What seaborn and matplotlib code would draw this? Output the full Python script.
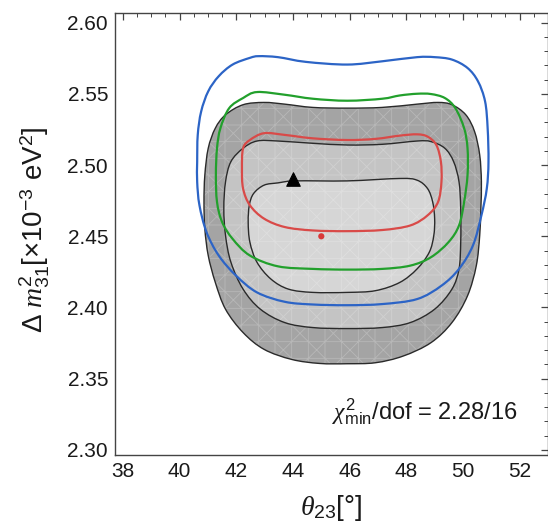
import numpy as np
import matplotlib
matplotlib.use("Agg")
import matplotlib.pyplot as plt
from matplotlib.ticker import MultipleLocator
from matplotlib.path import Path
from matplotlib.patches import PathPatch
import seaborn as sns

# ---- data (theta23 [deg], dm31^2 [1e-3 eV^2]) ----
blue_x = [40.62, 40.64, 40.76, 41.01, 41.38, 41.87, 42.48, 42.79, 43.47, 44.45, 45.92, 47.15,
          48.38, 49.00, 49.61, 50.16, 50.53, 50.78, 50.87, 50.90, 50.84, 50.65, 50.35, 49.86,
          49.24, 48.38, 47.15, 45.92, 44.70, 43.71, 42.73, 41.99, 41.38, 40.95, 40.70, 40.62]
blue_y = [2.5024, 2.5212, 2.5376, 2.5518, 2.5624, 2.5706, 2.5753, 2.5765, 2.5758, 2.5725, 2.5706, 2.5729,
          2.5758, 2.5758, 2.5741, 2.5682, 2.5588, 2.5447, 2.5259, 2.5024, 2.4835, 2.4647, 2.4435, 2.4271,
          2.4153, 2.4059, 2.4024, 2.4016, 2.4021, 2.4040, 2.4106, 2.4224, 2.4365, 2.4529, 2.4718, 2.4882]

green_x = [42.73, 43.71, 44.70, 45.92, 47.15, 47.77, 48.38, 48.87, 49.36, 49.73, 50.04, 50.16,
           50.16, 50.04, 49.86, 49.49, 48.87, 48.14, 47.15, 45.92, 44.70, 43.47, 42.48, 41.87,
           41.50, 41.32, 41.28, 41.32, 41.44, 41.75, 42.24]
green_y = [2.5513, 2.5494, 2.5466, 2.5452, 2.5466, 2.5489, 2.5501, 2.5499, 2.5471, 2.5400, 2.5259, 2.5118,
           2.4929, 2.4741, 2.4576, 2.4459, 2.4353, 2.4294, 2.4271, 2.4266, 2.4271, 2.4289, 2.4365, 2.4482,
           2.4600, 2.4741, 2.4929, 2.5118, 2.5259, 2.5400, 2.5471]

red_x = [42.98, 43.71, 44.70, 45.92, 46.91, 47.77, 48.38, 48.75, 49.06, 49.22, 49.24, 49.12,
         48.75, 48.14, 47.15, 45.92, 44.70, 43.71, 42.98, 42.48, 42.24, 42.20, 42.24, 42.48]
red_y = [2.5224, 2.5212, 2.5188, 2.5176, 2.5184, 2.5207, 2.5216, 2.5200, 2.5141, 2.5024, 2.4882, 2.4741,
         2.4647, 2.4576, 2.4544, 2.4536, 2.4541, 2.4565, 2.4624, 2.4718, 2.4835, 2.4976, 2.5118, 2.5176]

outer_x = [42.98, 43.71, 44.70, 45.92, 47.15, 48.38, 49.12, 49.61, 50.10, 50.41, 50.59, 50.65,
           50.63, 50.59, 50.47, 50.16, 49.61, 48.87, 47.89, 46.91, 45.92, 44.94, 43.96, 42.98,
           42.24, 41.62, 41.26, 41.01, 40.89, 40.86, 40.89, 41.01, 41.26, 41.62, 42.24]
outer_y = [2.5440, 2.5428, 2.5405, 2.5400, 2.5405, 2.5428, 2.5440, 2.5424, 2.5353, 2.5235, 2.5071, 2.4882,
           2.4694, 2.4506, 2.4294, 2.4082, 2.3894, 2.3753, 2.3659, 2.3612, 2.3605, 2.3607, 2.3635, 2.3706,
           2.3824, 2.3988, 2.4176, 2.4365, 2.4553, 2.4741, 2.4929, 2.5118, 2.5259, 2.5353, 2.5424]

middle_x = [42.73, 43.47, 44.70, 45.92, 47.15, 48.38, 48.87, 49.36, 49.67, 49.86, 49.92, 49.92,
            49.86, 49.61, 49.00, 48.14, 47.15, 45.92, 44.70, 43.71, 42.85, 42.24, 41.81, 41.62,
            41.56, 41.62, 41.81, 42.24]
middle_y = [2.5169, 2.5169, 2.5153, 2.5141, 2.5146, 2.5169, 2.5165, 2.5118, 2.5024, 2.4882, 2.4694, 2.4459,
            2.4271, 2.4129, 2.3988, 2.3894, 2.3859, 2.3852, 2.3859, 2.3894, 2.3988, 2.4129, 2.4318, 2.4506,
            2.4694, 2.4882, 2.5024, 2.5118]

inner_x = [42.98, 43.47, 44.08, 45.92, 47.77, 48.38, 48.75, 48.93, 49.00, 48.97, 48.81, 48.38,
           47.77, 46.91, 45.92, 44.70, 43.84, 43.22, 42.73, 42.48, 42.42, 42.46, 42.61]
inner_y = [2.4859, 2.4875, 2.4889, 2.4889, 2.4906, 2.4894, 2.4835, 2.4741, 2.4624, 2.4506, 2.4388, 2.4271,
           2.4176, 2.4118, 2.4106, 2.4106, 2.4129, 2.4200, 2.4318, 2.4459, 2.4600, 2.4718, 2.4800]

best_fit_x = [44.0]
best_fit_y = [2.49]
ref_point_x = [45.0]
ref_point_y = [2.45]

x_ticks = [38, 40, 42, 44, 46, 48, 50, 52]
y_ticks = [2.30, 2.35, 2.40, 2.45, 2.50, 2.55, 2.60]
chi2_text = r"$\chi^2_{\mathrm{min}}$/dof = 2.28/16"

# ---- style ----
sns.set_theme(style="white")
plt.rcParams["font.family"] = ["Liberation Sans", "DejaVu Sans"]
plt.rcParams["mathtext.fontset"] = "custom"
plt.rcParams["mathtext.rm"] = "Liberation Sans"
plt.rcParams["mathtext.it"] = "Liberation Serif:italic"
plt.rcParams["mathtext.bf"] = "Liberation Sans:bold"
plt.rcParams["hatch.linewidth"] = 0.6

fig = plt.figure(figsize=(5.48, 5.27), dpi=100)
ax = fig.add_axes([115 / 548, 1 - 455 / 527, (548 - 115) / 548, (455 - 13.3) / 527])
ax.set_facecolor("white")


def smooth_closed_path(xs, ys):
    """Closed cubic-Bezier path passing through every vertex (Catmull-Rom handles)."""
    p = np.column_stack([xs, ys]).astype(float)
    n = len(p)
    verts = [p[0]]
    codes = [Path.MOVETO]
    for i in range(n):
        p0, p1, p2, p3 = p[i - 1], p[i], p[(i + 1) % n], p[(i + 2) % n]
        c1 = p1 + (p2 - p0) / 6.0
        c2 = p2 - (p3 - p1) / 6.0
        verts += [c1, c2, p2]
        codes += [Path.CURVE4] * 3
    return Path(verts, codes)


def contour(xs, ys, face="none", edge="none", lw=0.0, z=1, hatch=None):
    patch = PathPatch(smooth_closed_path(xs, ys), facecolor=face, edgecolor=edge,
                      linewidth=lw, zorder=z, hatch=hatch, transform=ax.transData)
    ax.add_patch(patch)


# filled regions
contour(outer_x, outer_y, face="#a4a4a4", z=1)
contour(middle_x, middle_y, face="#c4c4c4", z=1.1)
contour(inner_x, inner_y, face="#d6d6d6", z=1.2)
contour(outer_x, outer_y, edge=(1, 1, 1, 0.22), lw=0, hatch="x+", z=1.3)

# black contour edges
for cx, cy in [(outer_x, outer_y), (middle_x, middle_y), (inner_x, inner_y)]:
    contour(cx, cy, edge="#2a2a2a", lw=1.0, z=2)

# coloured contours
contour(blue_x, blue_y, edge="#2c64c6", lw=1.6, z=3)
contour(green_x, green_y, edge="#22a02c", lw=1.6, z=3)
contour(red_x, red_y, edge="#d94a48", lw=1.6, z=3)

sns.scatterplot(x=best_fit_x, y=best_fit_y, marker="^", s=95, color="black",
                edgecolor="black", ax=ax, zorder=4)
sns.scatterplot(x=ref_point_x, y=ref_point_y, marker="o", s=20, color="#d93a3a",
                edgecolor="none", ax=ax, zorder=4)

ax.set_xlim(37.72, 53.0)
ax.set_ylim(2.2964, 2.6066)
ax.set_xticks(x_ticks)
ax.set_yticks(y_ticks)
ax.set_yticklabels([f"{v:.2f}" for v in y_ticks])
ax.xaxis.set_minor_locator(MultipleLocator(0.5))
ax.yaxis.set_minor_locator(MultipleLocator(0.01))
ax.tick_params(which="both", direction="in", top=True, right=True, color="#444444")
ax.tick_params(which="major", length=5, width=0.9, labelsize=15, pad=5, labelcolor="#1a1a1a")
ax.tick_params(which="minor", length=3, width=0.7)
for s in ax.spines.values():
    s.set_color("#444444")
    s.set_linewidth(1.0)

ax.set_xlabel(r"$\theta_{23}$[°]", fontsize=20, color="#1a1a1a")
ax.set_ylabel(r"$\Delta\ m^2_{31}$[×10$^{-3}$ eV$^2$]", fontsize=20, color="#1a1a1a")
ax.xaxis.set_label_coords(0.5, -0.085)
ax.yaxis.set_label_coords(-0.145, 0.51)

ax.text(48.65, 2.3266, chi2_text, fontsize=17, ha="center", va="center", color="#1a1a1a")

fig.savefig("out.png", dpi=100, facecolor="white")
